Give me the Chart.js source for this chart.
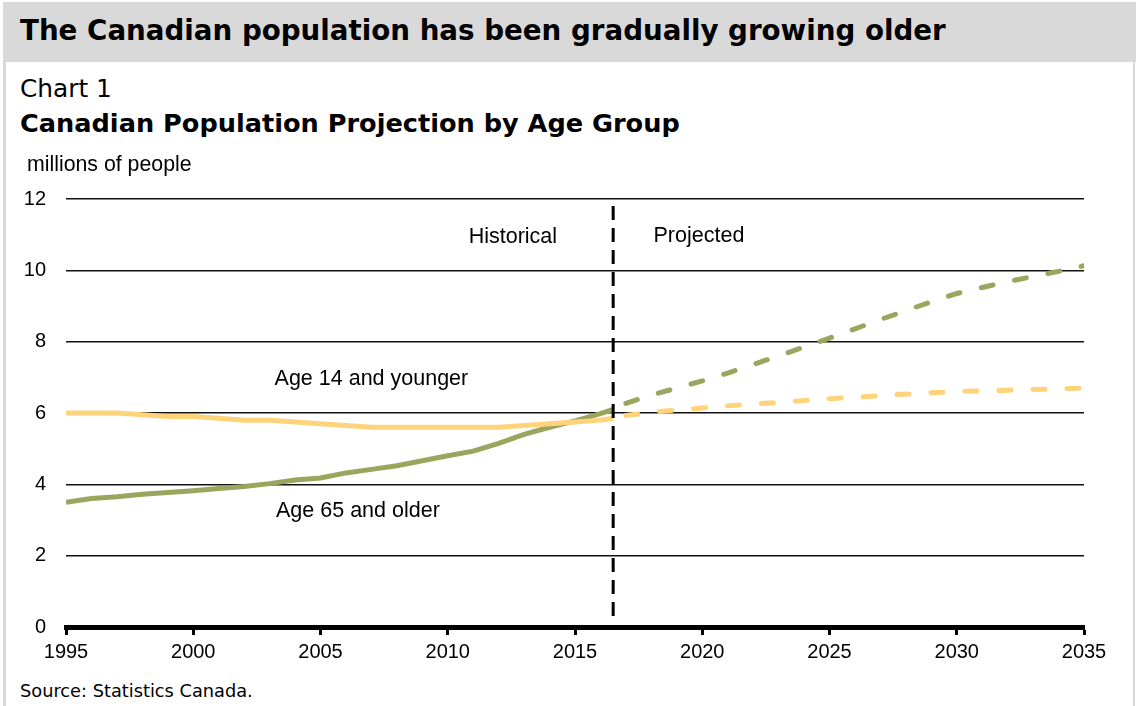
<!DOCTYPE html>
<html>
<head>
<meta charset="utf-8">
<script src="https://cdn.jsdelivr.net/npm/chart.js@4"></script>
<style>
  body { margin: 0; width: 1136px; height: 706px; background: #fff; position: relative; overflow: hidden; }
  .gothic { font-family: "DejaVu Sans", sans-serif; color: #000; position: absolute; white-space: nowrap; }
  #banner { position: absolute; left: 3px; top: 2px; width: 1133px; height: 60px; background: #d9d9d9; }
  #bl { position: absolute; left: 3px; top: 62px; width: 3px; height: 644px; background: #d9d9d9; }
  #br { position: absolute; left: 1133px; top: 62px; width: 2px; height: 644px; background: #d9d9d9; }
  #title { left: 20px; top: 14px; font-size: 29px; font-weight: bold; }
  #chartno { left: 20px; top: 74px; font-size: 24px; }
  #subtitle { left: 20px; top: 108px; font-size: 26px; font-weight: bold; }
  #source { left: 20px; top: 680px; font-size: 16px; }
  #units { position: absolute; left: 27px; top: 152px; font: 21.3px "Liberation Sans", Arial, sans-serif; }
  #wrap { position: absolute; left: 0; top: 167px; width: 1136px; height: 513px; }
</style>
</head>
<body>
<div id="banner"></div>
<div id="bl"></div>
<div id="br"></div>
<div id="title" class="gothic">The Canadian population has been gradually growing older</div>
<div id="chartno" class="gothic">Chart 1</div>
<div id="subtitle" class="gothic">Canadian Population Projection by Age Group</div>
<div id="wrap"><canvas id="c"></canvas></div>
<div id="units">millions of people</div>
<div id="source" class="gothic">Source: Statistics Canada.</div>
<script>
// historical estimates (last point sits on the divider, mid-2016)
const histYears = [1995, 1996, 1997, 1998, 1999, 2000, 2001, 2002, 2003, 2004, 2005,
  2006, 2007, 2008, 2009, 2010, 2011, 2012, 2013, 2014, 2015, 2016, 2016.5];
const histYoung = [6.0, 6.0, 6.0, 5.95, 5.9, 5.9, 5.85, 5.8, 5.8, 5.75, 5.7,
  5.65, 5.6, 5.6, 5.6, 5.6, 5.6, 5.6, 5.65, 5.7, 5.75, 5.8, 5.85];
const histOld = [3.5, 3.6, 3.65, 3.72, 3.77, 3.82, 3.88, 3.94, 4.02, 4.12, 4.18,
  4.32, 4.42, 4.52, 4.66, 4.8, 4.93, 5.15, 5.4, 5.6, 5.78, 5.98, 6.1];

// projections
const projYears = [2017, 2018, 2019, 2020, 2021, 2022, 2023, 2024, 2025, 2026,
  2027, 2028, 2029, 2030, 2031, 2032, 2033, 2034, 2035];
const projYoung = [5.93, 6.02, 6.08, 6.14, 6.2, 6.25, 6.3, 6.35, 6.4, 6.44,
  6.49, 6.53, 6.57, 6.6, 6.62, 6.64, 6.66, 6.68, 6.7];
const projOld = [6.27, 6.5, 6.7, 6.9, 7.12, 7.36, 7.6, 7.85, 8.1, 8.36,
  8.62, 8.87, 9.12, 9.35, 9.52, 9.68, 9.83, 9.97, 10.13];

const dividerYear = 2016.5;
const yTicks = [0, 2, 4, 6, 8, 10, 12];

const notes = [
  { text: "Historical", x: 2012.56, y: 10.94 },
  { text: "Projected", x: 2019.87, y: 10.96 },
  { text: "Age 14 and younger", x: 2007.0, y: 6.96 },
  { text: "Age 65 and older", x: 2006.47, y: 3.24 }
];

const GREEN = "#9aa55e";
const YELLOW = "#ffd37a";
const pts = (xs, ys) => xs.map((x, i) => ({ x, y: ys[i] }));

// fit the gothic headings to the widths they have in the original
function fit(id, w) {
  const el = document.getElementById(id);
  const fs = parseFloat(getComputedStyle(el).fontSize);
  el.style.fontSize = (fs * w / el.getBoundingClientRect().width) + "px";
}
fit("title", 926);
fit("chartno", 92);
fit("subtitle", 660);
fit("source", 233);

const extras = {
  id: "extras",
  afterDatasetsDraw(chart) {
    const { ctx, chartArea, scales } = chart;
    const x = scales.x.getPixelForValue(dividerYear);
    ctx.save();
    ctx.strokeStyle = "#000";
    ctx.lineWidth = 3;
    ctx.setLineDash([14, 8]);
    ctx.beginPath();
    ctx.moveTo(x, chartArea.top + 7);
    ctx.lineTo(x, chartArea.bottom - 6);
    ctx.stroke();
    ctx.setLineDash([]);
    ctx.fillStyle = "#000";
    ctx.font = '21.5px "Liberation Sans", Arial, sans-serif';
    ctx.textAlign = "center";
    ctx.textBaseline = "middle";
    notes.forEach((n) => {
      ctx.fillText(n.text, scales.x.getPixelForValue(n.x), scales.y.getPixelForValue(n.y));
    });
    ctx.restore();
  }
};

const solid = { borderWidth: 5, pointRadius: 0, tension: 0, fill: false };
const dashed = { ...solid, borderDash: [12, 22], borderCapStyle: "round" };

new Chart(document.getElementById("c"), {
  type: "line",
  data: {
    datasets: [
      { ...solid, label: "Age 14 and younger", data: pts(histYears, histYoung), borderColor: YELLOW },
      { ...solid, label: "Age 65 and older", data: pts(histYears, histOld), borderColor: GREEN },
      { ...dashed, label: "Age 14 and younger (projected)", data: pts(projYears, projYoung), borderColor: YELLOW },
      { ...dashed, label: "Age 65 and older (projected)", data: pts(projYears, projOld), borderColor: GREEN }
    ]
  },
  options: {
    responsive: true,
    maintainAspectRatio: false,
    animation: false,
    layout: { padding: { top: 5, right: 52, left: 0, bottom: 0 } },
    plugins: { legend: { display: false }, tooltip: { enabled: false } },
    scales: {
      x: {
        type: "linear",
        min: 1995,
        max: 2035,
        afterFit: (s) => { s.height = 53; },
        border: { display: true, color: "#000", width: 5 },
        grid: { drawOnChartArea: false, drawTicks: true, tickLength: 8, tickWidth: 3, tickColor: "#000" },
        ticks: {
          stepSize: 5,
          padding: 5,
          color: "#000",
          font: { family: '"Liberation Sans", Arial, sans-serif', size: 20 },
          maxRotation: 0,
          callback: (v) => String(v)
        }
      },
      y: {
        min: 0,
        max: 12,
        afterFit: (s) => { s.width = 66; },
        afterBuildTicks: (s) => { s.ticks = yTicks.map((v) => ({ value: v })); },
        border: { display: false },
        grid: { color: "#111", lineWidth: 1.4, drawTicks: false },
        ticks: {
          padding: 20,
          color: "#000",
          font: { family: '"Liberation Sans", Arial, sans-serif', size: 20 }
        }
      }
    }
  },
  plugins: [extras]
});
</script>
</body>
</html>
